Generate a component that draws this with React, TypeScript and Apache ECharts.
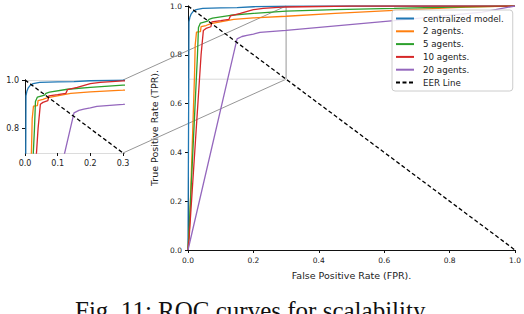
import React, { useEffect, useRef } from "react";
import * as echarts from "echarts";

// ROC curves: [FPR, TPR]
const centralized = [[0, 0], [0.002, 0.6], [0.003, 0.935], [0.006, 0.955], [0.01, 0.968], [0.016, 0.978], [0.025, 0.985], [0.045, 0.99], [0.1, 0.992], [0.15, 0.993], [0.2, 0.997], [0.3, 0.999], [0.5, 1], [1, 1]];
const agents2 = [[0, 0], [0.005, 0.1], [0.02, 0.72], [0.022, 0.84], [0.026, 0.893], [0.038, 0.895], [0.04, 0.915], [0.055, 0.92], [0.07, 0.928], [0.14, 0.945], [0.2, 0.951], [0.3, 0.958], [0.45, 0.97], [0.63, 0.982], [0.85, 0.995], [1, 1]];
const agents5 = [[0, 0], [0.004, 0.1], [0.029, 0.8], [0.032, 0.912], [0.038, 0.93], [0.06, 0.938], [0.064, 0.945], [0.075, 0.95], [0.13, 0.962], [0.2, 0.97], [0.3, 0.979], [0.45, 0.985], [0.63, 0.99], [0.85, 0.997], [1, 1]];
const agents10 = [[0, 0], [0.003, 0.04], [0.04, 0.8], [0.047, 0.9], [0.055, 0.908], [0.07, 0.915], [0.073, 0.935], [0.1, 0.94], [0.125, 0.945], [0.13, 0.96], [0.16, 0.97], [0.2, 0.985], [0.23, 0.99], [0.3, 0.996], [0.5, 1], [1, 1]];
const agents20 = [[0, 0], [0.15, 0.865], [0.165, 0.875], [0.18, 0.88], [0.2, 0.885], [0.22, 0.892], [0.3, 0.9], [0.63, 0.94], [0.9, 0.975], [1, 1]];
const eerLine = [[0, 1], [1, 0]];

const curves = [centralized, agents2, agents5, agents10, agents20];
const seriesNames = ["centralized model.", "2 agents.", "5 agents.", "10 agents.", "20 agents.", "EER Line"];
const colors = ["#1f77b4", "#ff7f0e", "#2ca02c", "#d62728", "#9467bd", "#000000"];

// zoom region shown in the inset
const zoomX = [0, 0.3];
const zoomY = [0.7, 1.0];
const insetYLabels = [0.8, 1.0];

const caption = "Fig. 11: ROC curves for scalability.";
const xTitle = "False Positive Rate (FPR).";
const yTitle = "True Positive Rate (TPR).";

const FONT = "DejaVu Sans";

export default function App() {
  const ref = useRef<HTMLDivElement>(null);

  useEffect(() => {
    if (!ref.current) return;
    const chart = echarts.init(ref.current, null, { renderer: "svg" });

    const light = "#dcdcdc";
    const dark = "#111";
    const labelStyle = { fontFamily: FONT, fontSize: 7.5, color: "#222" };
    const fmt = (v: number) => v.toFixed(1);

    const mainSeries: any[] = [];
    const insetSeries: any[] = [];

    // inset marker box in main plot
    mainSeries.push({
      type: "line", xAxisIndex: 0, yAxisIndex: 0, symbol: "none", silent: true,
      data: [[zoomX[0], zoomY[0]], [zoomX[1], zoomY[0]]],
      lineStyle: { color: "#d8d8d8", width: 1 },
    });
    mainSeries.push({
      type: "line", xAxisIndex: 0, yAxisIndex: 0, symbol: "none", silent: true,
      data: [[zoomX[1], zoomY[0]], [zoomX[1], zoomY[1]]],
      lineStyle: { color: "#8a8a8a", width: 0.9 },
    });

    curves.forEach((d, i) => {
      mainSeries.push({
        name: seriesNames[i], type: "line", xAxisIndex: 0, yAxisIndex: 0,
        symbol: "none", data: d, clip: true,
        lineStyle: { color: colors[i], width: 1.3 }, itemStyle: { color: colors[i] },
      });
      insetSeries.push({
        name: seriesNames[i], type: "line", xAxisIndex: 2, yAxisIndex: 2,
        symbol: "none", data: d, clip: true,
        lineStyle: { color: colors[i], width: 1.3 }, itemStyle: { color: colors[i] },
      });
    });
    mainSeries.push({
      name: seriesNames[5], type: "line", xAxisIndex: 0, yAxisIndex: 0,
      symbol: "none", data: eerLine, clip: true,
      lineStyle: { color: colors[5], width: 1.3, type: [4, 2.5] }, itemStyle: { color: colors[5] },
    });
    insetSeries.push({
      name: seriesNames[5], type: "line", xAxisIndex: 2, yAxisIndex: 2,
      symbol: "none", data: eerLine, clip: true,
      lineStyle: { color: colors[5], width: 1.3, type: [4, 2.5] }, itemStyle: { color: colors[5] },
    });

    const option: any = {
      animation: false,
      backgroundColor: "#fff",
      grid: [
        { left: 188, top: 6, width: 327, height: 244 },
        { left: 25, top: 80, width: 98, height: 73 },
      ],
      xAxis: [
        {
          gridIndex: 0, type: "value", min: 0, max: 1, interval: 0.2,
          axisLine: { lineStyle: { color: light, width: 1 } },
          axisTick: { show: true, length: 3, lineStyle: { color: dark } },
          axisLabel: { ...labelStyle, formatter: fmt, margin: 6 },
          splitLine: { show: false },
          name: xTitle, nameLocation: "middle", nameGap: 20,
          nameTextStyle: { fontFamily: FONT, fontSize: 9.5, color: "#222" },
        },
        {
          gridIndex: 0, type: "value", min: 0, max: 1, position: "top",
          axisLine: { lineStyle: { color: dark, width: 1 } },
          axisTick: { show: false }, axisLabel: { show: false }, splitLine: { show: false },
        },
        {
          gridIndex: 1, type: "value", min: zoomX[0], max: zoomX[1], interval: 0.1,
          axisLine: { lineStyle: { color: light, width: 1 } },
          axisTick: { show: true, length: 3, lineStyle: { color: dark } },
          axisLabel: { ...labelStyle, fontSize: 8, formatter: fmt, margin: 6 },
          splitLine: { show: false },
        },
        {
          gridIndex: 1, type: "value", min: zoomX[0], max: zoomX[1], position: "top",
          axisLine: { lineStyle: { color: light, width: 1 } },
          axisTick: { show: false }, axisLabel: { show: false }, splitLine: { show: false },
        },
      ],
      yAxis: [
        {
          gridIndex: 0, type: "value", min: 0, max: 1, interval: 0.2,
          axisLine: { show: true, lineStyle: { color: light, width: 1 } },
          axisTick: { show: true, length: 3, lineStyle: { color: dark } },
          axisLabel: { ...labelStyle, formatter: fmt, margin: 6 },
          splitLine: { show: false },
          name: yTitle, nameLocation: "middle", nameGap: 24,
          nameTextStyle: { fontFamily: FONT, fontSize: 9.5, color: "#222" },
        },
        {
          gridIndex: 0, type: "value", min: 0, max: 1, position: "right",
          axisLine: { show: true, lineStyle: { color: dark, width: 1 } },
          axisTick: { show: false }, axisLabel: { show: false }, splitLine: { show: false },
        },
        {
          gridIndex: 1, type: "value", min: zoomY[0], max: zoomY[1], interval: 0.1,
          axisLine: { show: true, lineStyle: { color: dark, width: 1 } },
          axisTick: { show: true, length: 3, lineStyle: { color: dark }, customValues: insetYLabels },
          axisLabel: { ...labelStyle, fontSize: 8, formatter: fmt, margin: 6, customValues: insetYLabels },
          splitLine: { show: false },
        },
        {
          gridIndex: 1, type: "value", min: zoomY[0], max: zoomY[1], position: "right",
          axisLine: { show: true, lineStyle: { color: dark, width: 1 } },
          axisTick: { show: false }, axisLabel: { show: false }, splitLine: { show: false },
        },
      ],
      legend: {
        data: seriesNames,
        orient: "vertical",
        left: 392, top: 10,
        padding: [4, 9, 4, 3],
        itemWidth: 18, itemHeight: 10, itemGap: 3.8,
        itemStyle: { opacity: 0, borderWidth: 0 },
        backgroundColor: "rgba(255,255,255,0.85)",
        borderColor: "#cccccc", borderWidth: 1, borderRadius: 3,
        textStyle: { fontFamily: FONT, fontSize: 8.7, color: "#222", padding: [0, 0, 0, 4] },
        selectedMode: false,
      },
      series: [...mainSeries, ...insetSeries],
    };
    chart.setOption(option);

    const p1a = chart.convertToPixel({ gridIndex: 1 }, [zoomX[1], zoomY[1]]) as number[];
    const p1b = chart.convertToPixel({ gridIndex: 0 }, [zoomX[1], zoomY[1]]) as number[];
    const p2a = chart.convertToPixel({ gridIndex: 1 }, [zoomX[1], zoomY[0]]) as number[];
    const p2b = chart.convertToPixel({ gridIndex: 0 }, [zoomX[1], zoomY[0]]) as number[];

    chart.setOption({
      graphic: [
        {
          type: "line", silent: true, z: 1,
          shape: { x1: p1a[0], y1: p1a[1], x2: p1b[0], y2: p1b[1] },
          style: { stroke: "#8a8a8a", lineWidth: 0.9 },
        },
        {
          type: "line", silent: true, z: 1,
          shape: { x1: p2a[0], y1: p2a[1], x2: p2b[0], y2: p2b[1] },
          style: { stroke: "#8a8a8a", lineWidth: 0.9 },
        },
        {
          type: "text", silent: true, x: 75, y: 298,
          style: {
            text: caption, fill: "#111",
            font: "25px 'Liberation Serif', 'Times New Roman', serif",
            textAlign: "left", textVerticalAlign: "top", verticalAlign: "top",
          },
        },
      ],
    });

    return () => chart.dispose();
  }, []);

  return (
    <div
      ref={ref}
      style={{ position: "fixed", left: 0, top: 0, width: 524, height: 314, background: "#fff" }}
    />
  );
}
